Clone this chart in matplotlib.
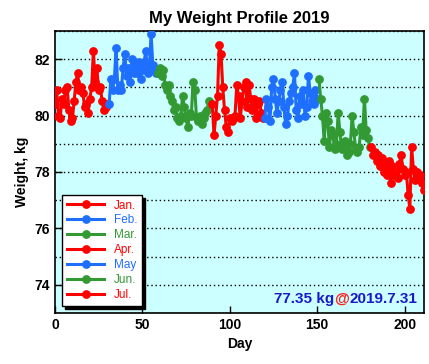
import numpy as np
import matplotlib
matplotlib.use('Agg')
from matplotlib import pyplot as plt
from matplotlib.offsetbox import TextArea, HPacker, AnchoredOffsetbox

plt.rcParams['font.family'] = ['Liberation Sans', 'DejaVu Sans']
plt.rcParams['font.weight'] = 'bold'

months = ['Jan.', 'Feb.', 'Mar.', 'Apr.', 'May', 'Jun.', 'Jul.']
colors = ['#ff0000', '#1f6fff', '#339933', '#ff0000', '#1f6fff', '#339933', '#ff0000']

jan = [80.4, 80.9, 80.0, 79.9, 80.6, 80.4, 80.9, 81.0, 80.2, 79.8, 79.9, 80.5, 81.2, 81.5, 80.9, 81.0,
       80.8, 80.3, 80.4, 80.1, 80.6, 81.0, 82.3, 81.2, 81.7, 80.9, 81.0, 80.5, 80.2, 80.3, 80.4]
feb = [80.4, 81.3, 80.9, 81.3, 82.4, 80.9, 81.1, 80.9, 81.7, 82.2, 81.4, 81.7, 81.2, 82.0, 81.5, 81.9,
       81.5, 81.9, 81.3, 81.6, 81.9, 82.3, 81.5, 81.7, 82.9, 81.8, 81.6, 81.5]
mar = [81.5, 81.7, 81.4, 81.6, 81.1, 80.9, 81.1, 80.7, 80.5, 80.2, 80.3, 79.9, 79.8, 80.0, 80.7, 80.3,
       79.9, 79.6, 80.1, 80.0, 81.2, 80.9, 79.9, 79.8, 80.0, 79.7, 79.9, 80.1, 80.2, 80.5, 80.4]
apr = [80.4, 79.3, 80.0, 80.7, 82.5, 82.2, 81.0, 80.2, 79.6, 79.4, 79.9, 79.8, 79.9, 80.0, 81.1, 80.7,
       79.9, 80.5, 81.0, 81.2, 80.3, 81.1, 80.6, 80.2, 80.6, 79.9, 80.4, 80.5, 80.1, 79.9]
may = [79.9, 80.6, 80.3, 79.8, 81.0, 81.3, 80.6, 80.1, 80.5, 80.9, 81.2, 80.3, 79.7, 80.0, 80.5, 80.8,
       81.0, 81.5, 80.2, 79.9, 80.7, 80.4, 80.9, 80.0, 80.3, 81.4, 80.8, 80.5, 80.4, 80.9, 80.6]
jun = [81.3, 80.6, 80.0, 79.1, 80.1, 79.8, 78.9, 79.5, 79.3, 78.8, 79.0, 80.1, 79.4, 78.8, 78.9, 79.1,
       78.6, 78.7, 79.0, 80.0, 79.4, 78.8, 78.7, 78.9, 79.6, 79.3, 80.6, 79.5, 79.2, 78.9]
jul = [78.9, 78.6, 78.7, 78.4, 78.6, 78.2, 78.5, 78.0, 78.3, 77.9, 78.4, 77.6, 78.2, 77.9, 78.0, 77.8,
       78.3, 78.6, 78.1, 77.9, 78.0, 77.2, 76.7, 78.9, 78.1, 77.7, 78.0, 77.8, 77.9, 77.6, 77.35]

series = [jan, feb, mar, apr, may, jun, jul]

fig = plt.figure(figsize=(4.29, 3.64), dpi=100)
ax = fig.add_axes([0.128, 0.140, 0.860, 0.775])
ax.set_facecolor('#ccffff')

start = 0
for vals, name, c in zip(series, months, colors):
    days = np.arange(start, start + len(vals))
    ax.plot(days, vals, color=c, lw=2.2, marker='o', ms=5.3, label=name, zorder=3)
    start += len(vals)

ax.set_xlim(0, 211)
ax.set_ylim(73, 83)
ax.set_xticks([0, 50, 100, 150, 200])
ax.set_yticks([74, 76, 78, 80, 82])
ax.set_yticks(np.arange(73, 84, 1), minor=True)
ax.tick_params(direction='in', length=5, width=1, labelsize=10)
ax.tick_params(which='minor', length=0)
ax.grid(axis='y', which='both', color='black', linestyle=(0, (1, 2)), lw=1, zorder=1)
for lab in ax.get_xticklabels() + ax.get_yticklabels():
    lab.set_fontweight('bold')

ax.set_title('My Weight Profile 2019', fontsize=12, fontweight='bold', pad=6)
ax.set_xlabel('Day', fontsize=10, fontweight='bold')
ax.set_ylabel('Weight, kg', fontsize=10, fontweight='bold')
for s in ax.spines.values():
    s.set_linewidth(1.2)

leg = ax.legend(loc='lower left', fontsize=8.5, handlelength=3.2, labelspacing=0.25,
                borderaxespad=0.6, fancybox=False, framealpha=1, edgecolor='black',
                shadow={'color': 'black', 'alpha': 1})
for txt, c in zip(leg.get_texts(), colors):
    txt.set_color(c)
    txt.set_fontweight('normal')
leg.set_zorder(5)

parts = [TextArea('77.35 kg', textprops=dict(color='#1a1acc', fontsize=11, fontweight='bold')),
         TextArea('@', textprops=dict(color='#ff2020', fontsize=11, fontweight='bold')),
         TextArea('2019.7.31', textprops=dict(color='#1a1acc', fontsize=11, fontweight='bold'))]
box = HPacker(children=parts, align='baseline', pad=0, sep=0)
anch = AnchoredOffsetbox(loc='lower right', child=box, pad=0.2, borderpad=0.3, frameon=False)
ax.add_artist(anch)

fig.savefig('out.png', dpi=100)
